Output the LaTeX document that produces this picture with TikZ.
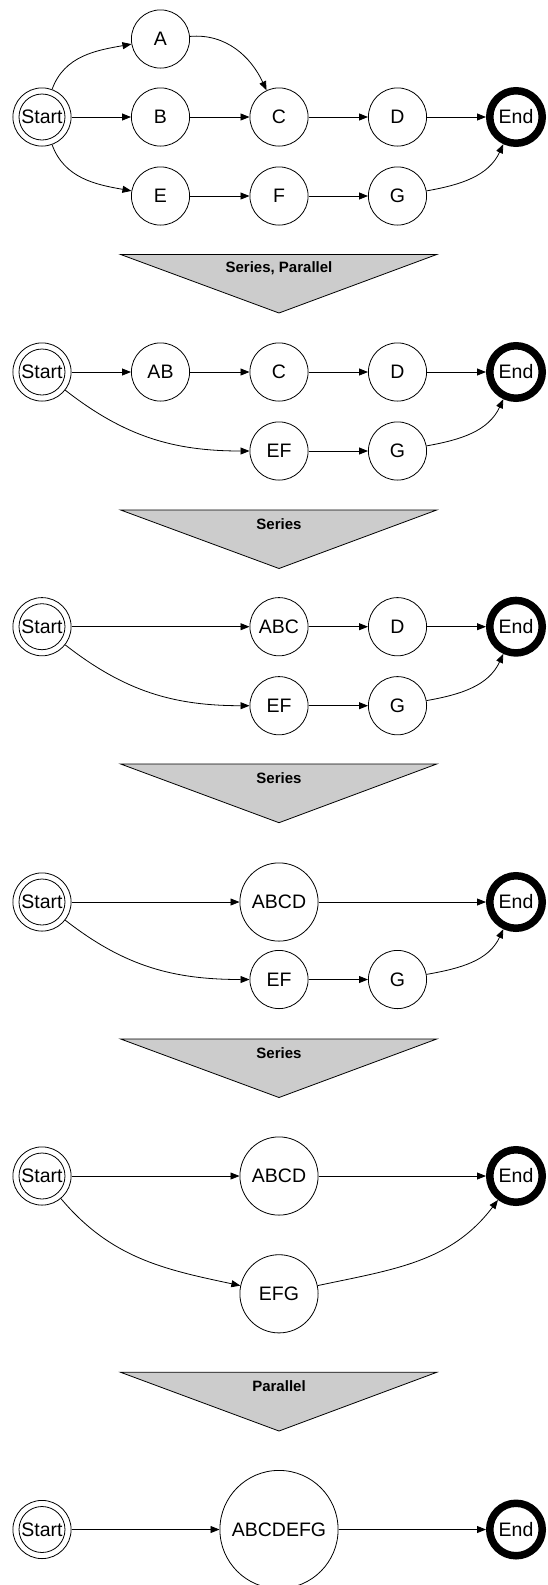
\documentclass[tikz,border=0pt]{standalone}
\usepackage{fontspec}
\setmainfont{Liberation Sans}
\usetikzlibrary{arrows.meta}
\definecolor{trifill}{HTML}{CCCCCC}
\begin{document}
\begin{tikzpicture}[x=1pt,y=-1pt,
  base/.style={circle, draw, inner sep=0pt, line width=0.8pt, font=\fontsize{19.5}{22}\selectfont},
  vnode/.style={base, minimum size=58.2pt},
  bignode/.style={base, minimum size=78.2pt},
  hugenode/.style={base, minimum size=118.2pt},
  startnode/.style={base, minimum size=58.2pt, path picture={\draw[line width=0.8pt] (path picture bounding box.center) circle (23pt);}},
  endnode/.style={base, line width=7.5pt, minimum size=52.5pt},
  arr/.style={-{Triangle[length=9pt,width=7pt]}, line width=0.8pt},
  tri/.style={draw, fill=trifill, line width=0.8pt},
  lab/.style={font=\fontsize{15}{17}\selectfont\bfseries, inner sep=0pt}
]
\useasboundingbox (0,0) rectangle (548,1585);

% ---------- Section 1 ----------
\node[startnode] (s1) at (42,117) {Start};
\node[vnode] (a1) at (160.5,39) {A};
\node[vnode] (b1) at (160.5,117) {B};
\node[vnode] (c1) at (279,117) {C};
\node[vnode] (d1) at (397.5,117) {D};
\node[endnode] (e1) at (516,117) {End};
\node[vnode] (ee1) at (160.5,196) {E};
\node[vnode] (f1) at (279,196) {F};
\node[vnode] (g1) at (397.5,196) {G};
\draw[arr] (s1) to[out=70,in=190] (a1);
\draw[arr] (s1) -- (b1);
\draw[arr] (s1) to[out=-70,in=170] (ee1);
\draw[arr] (a1) to[out=5,in=115] (c1);
\draw[arr] (b1) -- (c1);
\draw[arr] (c1) -- (d1);
\draw[arr] (d1) -- (e1);
\draw[arr] (ee1) -- (f1);
\draw[arr] (f1) -- (g1);
\draw[arr] (g1) to[out=10,in=245] (e1);

\draw[tri] (120.7,254.5) -- (436.7,254.5) -- (279,313) -- cycle;
\node[lab] (l1) at (279,268.5) {Series, Parallel};

% ---------- Section 2 ----------
\node[startnode] (s2) at (42,372) {Start};
\node[vnode] (ab2) at (160.5,372) {AB};
\node[vnode] (c2) at (279,372) {C};
\node[vnode] (d2) at (397.5,372) {D};
\node[endnode] (e2) at (516,372) {End};
\node[vnode] (ef2) at (279,451) {EF};
\node[vnode] (g2) at (397.5,451) {G};
\draw[arr] (s2) -- (ab2);
\draw[arr] (ab2) -- (c2);
\draw[arr] (c2) -- (d2);
\draw[arr] (d2) -- (e2);
\draw[arr] (s2) to[out=-38,in=180] (ef2);
\draw[arr] (ef2) -- (g2);
\draw[arr] (g2) to[out=10,in=245] (e2);

\draw[tri] (120.7,510) -- (436.7,510) -- (279,568.5) -- cycle;
\node[lab] (l2) at (279,524) {Series};

% ---------- Section 3 ----------
\node[startnode] (s3) at (42,626.7) {Start};
\node[vnode] (abc3) at (279,626.7) {ABC};
\node[vnode] (d3) at (397.5,626.7) {D};
\node[endnode] (e3) at (516,626.7) {End};
\node[vnode] (ef3) at (279,705.7) {EF};
\node[vnode] (g3) at (397.5,705.7) {G};
\draw[arr] (s3) -- (abc3);
\draw[arr] (abc3) -- (d3);
\draw[arr] (d3) -- (e3);
\draw[arr] (s3) to[out=-38,in=180] (ef3);
\draw[arr] (ef3) -- (g3);
\draw[arr] (g3) to[out=10,in=245] (e3);

\draw[tri] (120.7,764) -- (436.7,764) -- (279,822.7) -- cycle;
\node[lab] (l3) at (279,778) {Series};

% ---------- Section 4 ----------
\node[startnode] (s4) at (42,902) {Start};
\node[bignode] (abcd4) at (279,902) {ABCD};
\node[endnode] (e4) at (516,902) {End};
\node[vnode] (ef4) at (279,979.5) {EF};
\node[vnode] (g4) at (397.5,979.5) {G};
\draw[arr] (s4) -- (abcd4);
\draw[arr] (abcd4) -- (e4);
\draw[arr] (s4) to[out=-38,in=180] (ef4);
\draw[arr] (ef4) -- (g4);
\draw[arr] (g4) to[out=10,in=245] (e4);

\draw[tri] (120.7,1039) -- (436.7,1039) -- (279,1097.5) -- cycle;
\node[lab] (l4) at (279,1053) {Series};

% ---------- Section 5 ----------
\node[startnode] (s5) at (42,1176) {Start};
\node[bignode] (abcd5) at (279,1176) {ABCD};
\node[endnode] (e5) at (516,1176) {End};
\node[bignode] (efg5) at (279,1293.8) {EFG};
\draw[arr] (s5) -- (abcd5);
\draw[arr] (abcd5) -- (e5);
\draw[arr] (s5) to[out=-50,in=168] (efg5);
\draw[arr] (efg5) to[out=12,in=233] (e5);

\draw[tri] (120.7,1372.3) -- (436.7,1372.3) -- (279,1431) -- cycle;
\node[lab] (l5) at (279,1386.5) {Parallel};

% ---------- Section 6 ----------
\node[startnode] (s6) at (42,1529.5) {Start};
\node[hugenode] (all6) at (279,1529.5) {ABCDEFG};
\node[endnode] (e6) at (516,1529.5) {End};
\draw[arr] (s6) -- (all6);
\draw[arr] (all6) -- (e6);
\end{tikzpicture}
\end{document}
